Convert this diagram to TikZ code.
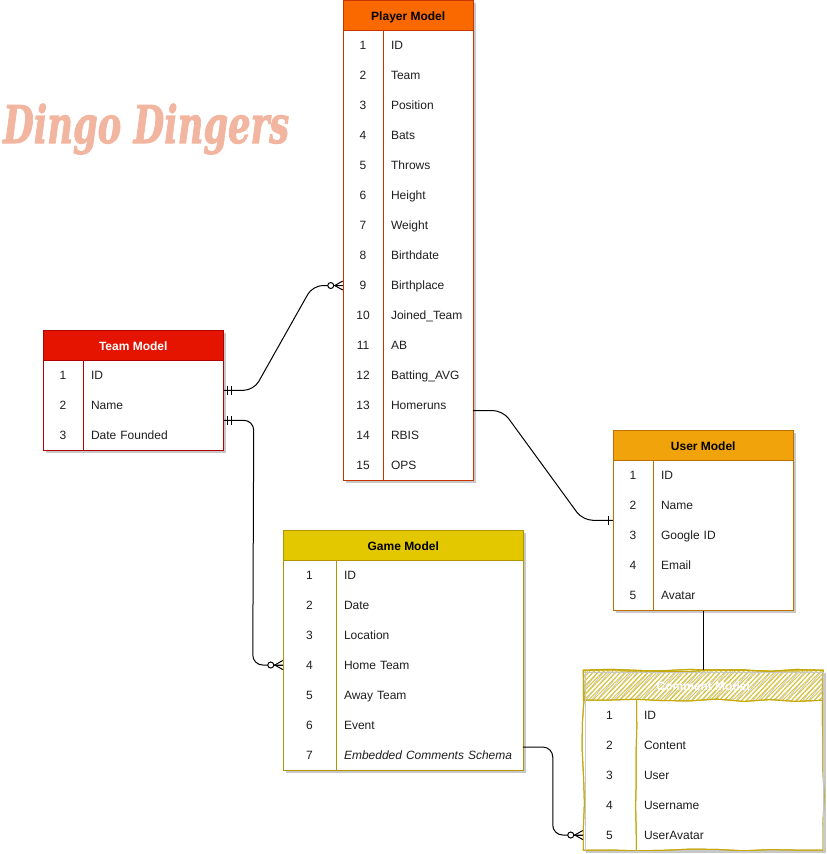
\documentclass[tikz,border=0pt]{standalone}
\usepackage{fontspec}
\setmainfont{Liberation Sans}
\newfontfamily\logofont[BoldItalicFeatures={FakeBold=2}]{DejaVu Serif}
\usetikzlibrary{calc,patterns.meta,decorations.pathmorphing}
\definecolor{shadowc}{HTML}{C8C8C8}
\definecolor{logoc}{HTML}{F2B5A0}
\definecolor{gold}{HTML}{C4A80C}
\definecolor{hatchy}{HTML}{DCC52A}
\definecolor{teamC}{HTML}{E51400}\definecolor{teamS}{HTML}{B20000}
\definecolor{playerC}{HTML}{FA6800}\definecolor{playerS}{HTML}{C73500}
\definecolor{gameC}{HTML}{E3C800}\definecolor{gameS}{HTML}{B09500}
\definecolor{userC}{HTML}{F0A30A}\definecolor{userS}{HTML}{BD7000}
\tikzset{
  x=0.75pt, y=-0.75pt,
  erbase/.style={line width=0.75pt},
  conn/.style={draw=black, line width=0.75pt},
  elbow/.style={conn, rounded corners=7.5pt},
  headtext/.style={font=\fontsize{9}{11}\selectfont\bfseries, text=black, text height=9pt, text depth=1.4pt},
  rowtext/.style={font=\fontsize{9}{11}\selectfont, text=black!88, text height=7.6pt, text depth=1.5pt},
  teamF/.style={draw=teamS, fill=white}, teamR/.style={draw=teamS},
  teamH/.style={fill=teamC, draw=teamS, headtext, text=white},
  playerF/.style={draw=playerS, fill=white}, playerR/.style={draw=playerS},
  playerH/.style={fill=playerC, draw=playerS, headtext},
  gameF/.style={draw=gameS, fill=white}, gameR/.style={draw=gameS},
  gameH/.style={fill=gameC, draw=gameS, headtext},
  userF/.style={draw=userS, fill=white}, userR/.style={draw=userS},
  userH/.style={fill=userC, draw=userS, headtext},
  sketchy/.style={decorate, decoration={random steps, segment length=20pt, amplitude=0.9pt}},
  commentF/.style={draw=gold, fill=white, sketchy, postaction={draw=gold, sketchy}},
  commentR/.style={draw=gold, sketchy, postaction={draw=gold, sketchy}},
  commentH/.style={headtext, text=white, draw=gold, sketchy,
    postaction={draw=gold, sketchy},
    preaction={pattern={Lines[angle=50,distance=3.2pt,line width=0.7pt]}, pattern color=shadowc},
    preaction={pattern={Lines[angle=45,distance=2.4pt,line width=0.7pt]}, pattern color=hatchy}},
  pics/zeromany/.style={code={
    \draw[conn] (0,0) -- (-9,0);
    \draw[conn] (0,-4.5) -- (-8,0) -- (0,4.5);
    \draw[conn, fill=white] (-12,0) circle[radius=3];
  }},
  pics/mandone/.style={code={
    \draw[conn] (4,-4.5) -- (4,4.5);
    \draw[conn] (8,-4.5) -- (8,4.5);
  }},
  pics/onetick/.style={code={
    \draw[conn] (-4,-4.5) -- (-4,4.5);
  }},
}
% name, x, y, width, number column, rows, style prefix, title, fields
\newcommand{\ertable}[9]{%
  \pgfmathsetmacro{\tblh}{30+30*#6}%
  \fill[shadowc] (#2+3,#3+3) rectangle (#2+#4+3,#3+\tblh+3);
  \node[#7F, erbase, anchor=north west, inner sep=0pt, minimum width=#4*0.75pt, minimum height=\tblh*0.75pt] (#1) at (#2,#3) {};
  \node[#7H, erbase, anchor=north west, inner sep=0pt, minimum width=#4*0.75pt, minimum height=22.5pt] (#1-h) at (#2,#3) {#8};
  \draw[#7R, erbase] (#2+#5+0.75,#3+30) -- (#2+#5+0.75,#3+\tblh);
  \foreach \fld [count=\i] in {#9} {
    \node[rowtext, anchor=north west, inner sep=0pt, minimum width=#5*0.75pt, minimum height=22.5pt, align=center] (#1-n\i) at (#2,#3+30*\i) {\i};
    \node[rowtext, anchor=north west, inner ysep=0pt, inner xsep=6pt, minimum height=22.5pt, text width=(#4-#5)*0.75pt-12pt, align=left] (#1-\i) at (#2+#5,#3+30*\i) {\fld};
  }
}
\begin{document}
\begin{tikzpicture}
\useasboundingbox (0,0) rectangle (826,854);
\pgfmathsetseed{7}
\node[anchor=base west, inner sep=0pt, text=logoc, xscale=0.68, font=\logofont\fontsize{39}{44}\selectfont\bfseries\itshape] (logo) at (3,143) {Dingo Dingers};

\ertable{player}{342.75}{0.25}{130}{40}{15}{player}{Player Model}{ID,Team,Position,Bats,Throws,Height,Weight,Birthdate,Birthplace,Joined\_Team,AB,Batting\_AVG,Homeruns,RBIS,OPS}
\ertable{team}{42.75}{329.75}{180}{40}{3}{team}{Team Model}{ID,Name,Date Founded}
\ertable{game}{282.75}{529.75}{240}{53}{7}{game}{Game Model}{ID,Date,Location,Home Team,Away Team,Event,\textit{Embedded Comments Schema}}
\ertable{user}{612.75}{429.75}{180}{40}{5}{user}{User Model}{ID,Name,Google ID,Email,Avatar}
\ertable{comment}{582.75}{669.75}{240}{53}{5}{comment}{Comment Model}{ID,Content,User,Username,UserAvatar}
\draw[shadowc, erbase] ($(comment.north west)+(3,3)$) rectangle ($(comment.south east)+(0,1)$);

\coordinate (playerOut) at ($(player-13.west)+(130-40,5)$);
\coordinate (gameOut) at ($(game-7.west)+(187,-8)$);

\draw[elbow] (team-1.south west -| team.east) -- ++(30,0) -- ($(player-9.west -| player.west)+(-30,0)$) -- (player-9.west -| player.west);
\draw[elbow] (team-2.south west -| team.east) -- ++(30,0) -- ($(game-4.west -| game.west)+(-30,0)$) -- (game-4.west -| game.west);
\draw[elbow] (playerOut) -- ++(30,0) -- ($(user-2.south west -| user.west)+(-30,0)$) -- (user-2.south west -| user.west);
\draw[elbow] (gameOut) -- ++(30,0) -- ($(comment-5.west -| comment.west)+(-30,0)$) -- (comment-5.west -| comment.west);
\draw[conn] (user.south) -- (comment.north -| user.south);

\pic at (team-1.south west -| team.east) {mandone};
\pic at (team-2.south west -| team.east) {mandone};
\pic at (player-9.west -| player.west) {zeromany};
\pic at (game-4.west -| game.west) {zeromany};
\pic at (comment-5.west -| comment.west) {zeromany};
\pic at (user-2.south west -| user.west) {onetick};
\end{tikzpicture}
\end{document}
